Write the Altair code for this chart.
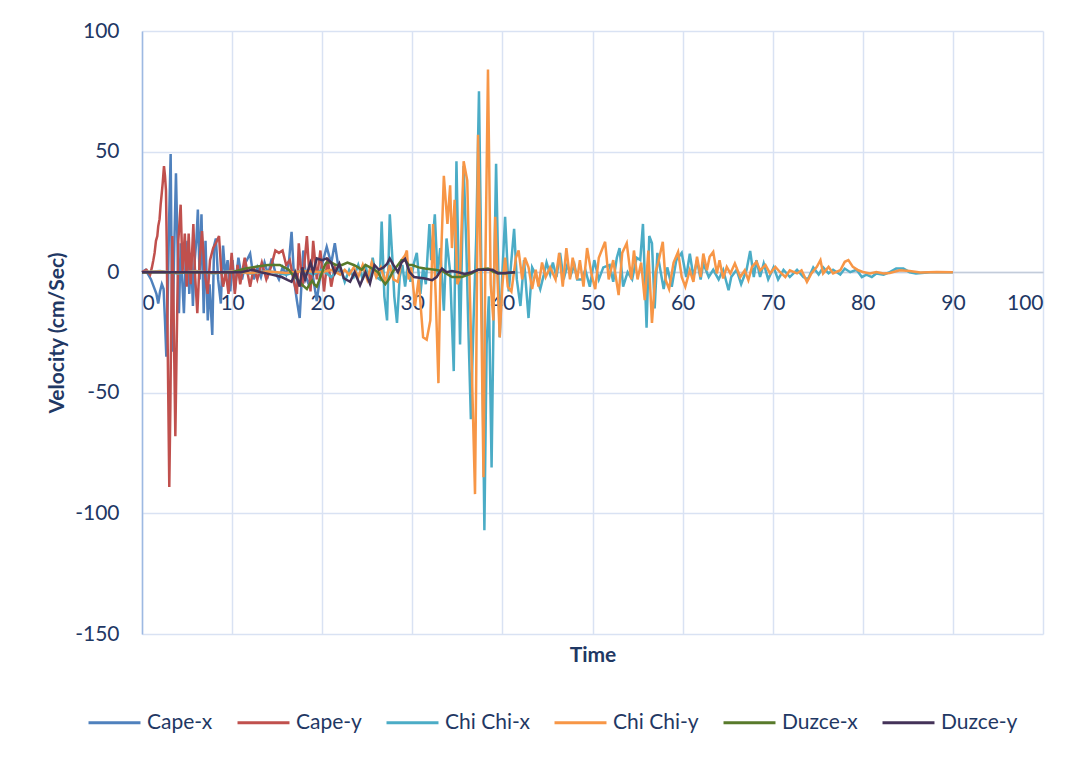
import altair as alt
import pandas as pd

# ---------------- data ----------------
series_names = ["Cape-x", "Cape-y", "Chi Chi-x", "Chi Chi-y", "Duzce-x", "Duzce-y"]
series_colors = ["#4F81BD", "#C0504D", "#4BACC6", "#F79646", "#587A2B", "#443359"]

cape_x_t = [0.0, 0.4, 0.7, 1.0, 1.3, 1.6, 1.8, 2.0, 2.2, 2.4, 2.55, 2.7, 2.85, 3.0, 3.18, 3.37, 3.55,
            3.77, 3.95, 4.1, 4.3, 4.45, 4.65, 4.85, 5.05, 5.25, 5.45, 5.65, 5.85, 6.05, 6.2, 6.4,
            6.6, 6.85, 7.05, 7.3, 7.5, 7.8, 8.0, 8.2, 8.45, 8.75, 9.0, 9.25, 9.5, 9.8, 10.05, 10.3,
            10.7, 11.1, 11.5, 12.0, 12.4, 12.8, 13.2, 13.6, 14.0, 14.4, 14.8, 15.2, 15.6, 16.0,
            16.3, 16.6, 16.9, 17.2, 17.5, 17.9, 18.2, 18.5, 18.9, 19.4, 19.9, 20.5, 21.0, 21.4, 21.8, 22.0]
cape_x_v = [0, 1, -1, -3, -6, -9, -13, -8, -5, -7, -20, -35, -12, 20, 49, -33, 5,
            41, 10, -17, 12, -2, -17, 5, 13, -9, 8, -14, 5, 14, 26, -3,
            24, -17, 13, -20, -5, -26, 11, 14, -3, -13, 11, -2, 5, -8, 5, -7.5,
            6, -3, 4, 7.7, -3, 2, -2, 4, -1, 5.7, 0, -3, 2, -1,
            4, 16.7, -4, -12, -19, 9, -2, -5, 0, -12, 2, 10.5, 3.6, 12, 2, 0]

cape_y_t = [0.0, 0.5, 0.9, 1.1, 1.26, 1.4, 1.55, 1.7, 1.8, 1.95, 2.07, 2.2, 2.3, 2.44, 2.55, 2.66,
            2.75, 2.85, 3.03, 3.15, 3.22, 3.37, 3.5, 3.7, 3.85, 4.03, 4.29, 4.5, 4.75, 4.96, 5.18,
            5.4, 5.7, 5.9, 6.14, 6.4, 6.66, 6.95, 7.29, 7.55, 7.9, 8.2, 8.55, 8.8, 9.0, 9.3, 9.6,
            9.95, 10.3, 10.6, 10.9, 11.4, 12.0, 12.4, 12.8, 13.3, 13.8, 14.3, 14.8, 15.2, 15.6,
            16.0, 16.4, 16.8, 17.2, 17.4, 17.8, 18.3, 18.7, 19.0, 19.4, 19.8, 20.2, 20.6, 21.0, 21.4, 21.8]
cape_y_v = [0, 1, -1, 2, 5, 8, 13, 15, 19, 22, 28, 33, 37, 44, 40, 34,
            10, -30, -89, -55, -28, 15, -14, -68, -30, 13, 28, 0, 16, -6, 16,
            -5, 20, -2, -17, 5, 17, 0, -9, 5, 10, 12, 15, 0, -6, 0, -9,
            8, -9, 3, -5, 6, -6, 2, -3, 4, -3, 2, 9, 8, 9,
            3, 5, -3, -9, 12, -6, 15, -8, 13, -3, 9, -8, 6, -6, 2, 0]

chichi_x_t = [0, 2, 4, 6, 8, 10, 12, 14, 16, 18, 19, 20, 21, 22, 22.5, 23, 23.5, 24, 24.5, 24.8,
              25.2, 25.6, 26.0, 26.4, 26.6, 26.9, 27.2, 27.5, 27.8, 28.0, 28.3, 28.6, 28.9, 29.2,
              29.5, 29.8, 30.2, 30.5, 30.9, 31.2, 31.5, 31.9, 32.1, 32.5, 32.8, 33.1, 33.5, 33.8,
              34.2, 34.6, 34.9, 35.3, 35.7, 36.0, 36.2, 36.5, 36.8, 37.1, 37.4, 37.6, 37.8, 38.0,
              38.25, 38.5, 38.8, 39.05, 39.3, 39.7, 40.0, 40.3, 40.7, 41.0, 41.3, 41.6, 42.0, 42.4,
              42.9, 43.3, 43.7, 44.2, 44.6, 44.9, 45.3, 45.6, 46.0, 46.4, 46.8, 47.2, 47.6, 48.0,
              48.3, 48.8, 49.2, 49.7, 50.2, 50.7, 51.2, 51.9, 52.3, 52.7, 53.0, 53.4, 53.9, 54.4,
              54.9, 55.3, 55.6, 56.0, 56.3, 56.6, 56.9, 57.2, 57.9, 58.3, 58.8, 59.3, 59.9, 60.4,
              60.8, 61.2, 61.6, 62.0, 62.3, 62.9, 63.4, 64.0, 64.5, 65.1, 65.4, 66.0, 66.5, 67.1,
              67.5, 67.9, 68.2, 68.6, 69.0, 69.5, 70.1, 70.6, 71.2, 71.9, 72.7, 73.4, 73.9, 74.5,
              75.1, 75.6, 76.2, 76.7, 77.5, 78.0, 78.6, 79.3, 79.9, 80.4, 81.0, 81.5, 82.3, 83.0,
              83.7, 84.5, 85.2, 85.9, 87.5, 90.0]
chichi_x_v = [0, 0.5, -0.5, 0.5, -0.5, 0.5, -0.5, 0.5, -1, 1, -1, 1, -2, 2, -4, 1, -2, 3, -3, 3,
              -4, 6, -2, -3, 21, -10, -20, 24, 5, -10, -21, -2, 3, -6,
              3, -4, 4, 8, -9, 2, -5, 20, 5, 24, -1, 10, -16, 14,
              0, -41, 46, -30, 44, 10, -20, -61, -20, 15, 75, 20, -40, -107,
              -30, -10, -81, -10, 45, -27, 0, 23, -8, 5, 18, -3, -14, 5,
              -19, 2, -1, -7, -1, 4, -1, 4, -2, 8, -3, 3, -1, 3,
              -3, -3, 1, -6, 5, -3, 2, 3, -4, 6, 10, -6, 0, -3,
              6, 5, 20, -23, 15, 12, -15, 8, -7, 2, -6, 5, 8, -2,
              7.7, -2, 5, -3, 3.6, -2, 1, -3, 1, -7.5, -2, 1, -5, 1,
              8.8, -2, 5, -2, 3.6, -3, 2, -3, 1, -2, 1, -2, -3, 2,
              -1, 2, -0.5, 1, -1, 1.5, 0, 1, -2, -1, -2, -0.5, -1, 0,
              1.5, 1.5, 0, -0.5, 0, 0]

chichi_y_t = [0, 2, 4, 6, 8, 10, 12, 14, 16, 18, 20, 21, 22, 22.5, 23, 23.5, 24, 24.5, 25, 25.5,
              26, 26.5, 27, 27.5, 27.9, 28.4, 28.8, 29.2, 29.4, 29.6, 29.9, 30.3, 30.7, 31.2, 31.6,
              32.0, 32.3, 32.6, 32.9, 33.1, 33.5, 33.9, 34.2, 34.4, 34.7, 35.0, 35.3, 35.7, 36.1,
              36.4, 36.96, 37.1, 37.3, 37.6, 37.9, 38.1, 38.4, 38.7, 39.0, 39.2, 39.7, 40.0, 40.3,
              40.6, 41.0, 41.5, 41.8, 42.2, 42.5, 42.9, 43.3, 43.7, 44.0, 44.4, 44.8, 45.3, 45.9,
              46.3, 46.7, 47.1, 47.5, 47.8, 48.3, 48.6, 49.0, 49.4, 49.9, 50.3, 50.7, 51.4, 51.8,
              52.3, 52.9, 53.3, 53.8, 54.3, 54.6, 55.0, 55.4, 55.8, 56.2, 56.6, 57.0, 57.3, 57.8,
              58.1, 58.5, 59.0, 59.5, 59.9, 60.3, 60.8, 61.2, 61.6, 62.0, 62.3, 62.7, 63.0, 63.4,
              63.8, 64.1, 64.5, 64.9, 65.3, 65.8, 66.4, 66.9, 67.3, 67.7, 68.2, 68.6, 69.2, 69.7,
              70.3, 70.8, 71.4, 71.9, 72.7, 73.2, 73.8, 74.3, 74.9, 75.3, 75.6, 76.2, 76.7, 77.5,
              78.0, 78.4, 78.9, 79.5, 80.0, 80.8, 81.5, 82.3, 83.0, 84.1, 85.2, 86.4, 88.2, 90.0]
chichi_y_v = [0, 0.3, -0.3, 0.3, -0.3, 0.3, -0.3, 0.3, -0.3, 0.5, 0, 1, -1, 1, -1, 2, -2, 3, -3, 4,
              -2, 2, -4, 3, -3, -4, 5, 7, 9, -3, 2, -14, -3, -27, -28,
              -20, 20, -10, -46, -5, 40, 20, 36, 10, 30, -5, -2, 46, 38,
              -10, -92, -40, 57, 0, -85, 0, 84, -5, -20, 23, -27, -5, 6,
              -6, -8, 6, 9, -3, 6, 2, -7, 1, -6, 4, -2, 2, -3,
              8, -6, 10, -3, 6, -3, 5, -6, 10, -1, -7, 6, 12.6, -3,
              5, -9.5, 8, 12, -3, 9, -3, 4, -11.6, 9, -21, 0, 4, 12.6,
              -3, -7, 4, 8.4, -2, -6, 0.8, -4, 6.4, -2, 7.7, 0.8, 6.4, 8.4,
              -0.5, 5, -2.6, 2.2, -0.5, 3.6, -2, 0.8, -3.3, 2.2, 4.3, 0.8, 3, -0.5,
              2.2, 0.1, -2, 0.8, -0.5, 0.8, -4, -0.5, 2.2, 5, -0.5, 2.2, -0.5, 0.8,
              4.3, 5, 2.2, 0.8, 0.1, -0.5, 0.1, -0.5, -0.3, 0.8, 0.5, -0.1, 0.1, 0]

duzce_x_t = [0, 10, 10.5, 11, 11.5, 12.2, 13, 14, 14.5, 15.3, 15.8, 16.3, 16.6, 17.0, 17.4, 17.7,
             18.0, 18.3, 18.6, 18.9, 19.1, 19.4, 19.7, 20.0, 20.3, 20.5, 21.0, 21.5, 22.2, 22.8,
             23.5, 24.0, 24.4, 24.8, 25.3, 25.8, 26.2, 26.6, 27.0, 27.4, 27.8, 28.2, 28.8, 29.2,
             29.6, 30.0, 30.7, 31.4, 32.5, 33.3, 34.4, 35.5, 36.6, 37.3, 38.4, 39.1, 40.3, 41.4]
duzce_x_v = [0, 0, 0.5, 1, 1.5, 2, 2.5, 3, 3, 3, 2, 1, -0.5, -2, -3.5, -5,
             -6, -7, -5, -3.5, -5, -6, -3, 0, 3, 4, 4, 3, 3, 4,
             3, 2, 1, 3, 2, 1, 0, -3, -5, -3, 0, 2, 5, 5,
             3, 3, 2, 1.5, 1, 0.5, -2, -2, -0.5, 1, 1.5, 0, -0.5, 0]

duzce_y_t = [0, 11, 12.2, 13.2, 14.4, 15.5, 16.2, 16.6, 17.0, 17.5, 17.8, 18.1, 18.7, 19.0, 19.4,
             20.0, 20.5, 21.0, 21.4, 21.9, 22.4, 23.1, 23.6, 24.2, 24.8, 25.3, 25.8, 26.3, 26.8,
             27.2, 27.5, 27.9, 28.4, 28.8, 29.2, 29.7, 30.2, 31.4, 32.2, 32.7, 33.3, 33.8, 34.4,
             35.1, 35.8, 36.6, 37.3, 38.3, 38.9, 39.5, 40.3, 41.4]
duzce_y_v = [0, 0, 1, 0, -1, -2, -3.3, -4, 0, -6, 2, -3, 4, 0, 5.7,
             5, 5.7, 4, -0.5, 3.5, -2.5, -4, 0, -5.4, 0, -4.7, 3, 1, 2,
             3.5, 5.7, 3, 0, 4, 5.5, 0, -2, -2.6, -3.3, -2, 1.5, 0, 0.5,
             0, -0.7, 0, 1, 1, 1, -0.5, -0.3, 0]

x_ticks = [0, 10, 20, 30, 40, 50, 60, 70, 80, 90, 100]
y_ticks = [-150, -100, -50, 0, 50, 100]

# ---------------- chart ----------------
series_data = [
    ("Cape-x", cape_x_t, cape_x_v),
    ("Cape-y", cape_y_t, cape_y_v),
    ("Chi Chi-x", chichi_x_t, chichi_x_v),
    ("Chi Chi-y", chichi_y_t, chichi_y_v),
    ("Duzce-x", duzce_x_t, duzce_x_v),
    ("Duzce-y", duzce_y_t, duzce_y_v),
]

TEXT = "#1F3864"
GRID = "#D9E2F3"
FONT = "Lato"
W, H = 901, 603

x_axis = alt.Axis(values=x_ticks, title="Time", offset=-362, domainColor="#C3CCDA", domainWidth=1.5,
                  ticks=False, labelPadding=20, labelFontSize=21, labelFont=FONT, labelColor=TEXT,
                  gridColor=GRID, gridWidth=1.5, titleFontSize=21, titleFont=FONT,
                  titleFontWeight="bold", titleColor=TEXT, titleY=383, titleBaseline="middle")
y_axis = alt.Axis(values=y_ticks, title="Velocity (cm/Sec)", domainColor="#9DB9E2", domainWidth=1.5,
                  ticks=False, labelPadding=23, labelFontSize=21, labelFont=FONT, labelColor=TEXT,
                  labelExpr="datum.value + ''",
                  gridColor=GRID, gridWidth=1.5, titleFontSize=21, titleFont=FONT,
                  titleFontWeight="bold", titleColor=TEXT, titleX=-85, titleBaseline="middle")

color_scale = alt.Scale(domain=series_names, range=series_colors)
legend = alt.Legend(title=None, orient="none", legendX=-55, legendY=664, direction="horizontal",
                    symbolType="stroke", symbolStrokeWidth=3, symbolSize=2700,
                    labelFontSize=21, labelFont=FONT, labelColor=TEXT, columnPadding=18, labelOffset=5)

x_scale = alt.Scale(domain=[0, 100], nice=False, zero=False)
y_scale = alt.Scale(domain=[-150, 100], nice=False)

layers = []
for name, t, v in series_data:
    df = pd.DataFrame({"Time": t, "Velocity": v, "Series": name})
    layers.append(
        alt.Chart(df).mark_line(strokeWidth=2.5).encode(
            x=alt.X("Time:Q", scale=x_scale, axis=x_axis),
            y=alt.Y("Velocity:Q", scale=y_scale, axis=y_axis),
            color=alt.Color("Series:N", scale=color_scale, legend=legend),
        )
    )

chart = alt.layer(*layers).properties(
    width=W, height=H,
    autosize=alt.AutoSizeParams(type="none"),
    padding={"left": 134, "top": 23, "right": 35, "bottom": 122},
    background="white",
).configure_view(stroke=None)

chart.save("out.html", embed_options={"renderer": "svg", "actions": False})
